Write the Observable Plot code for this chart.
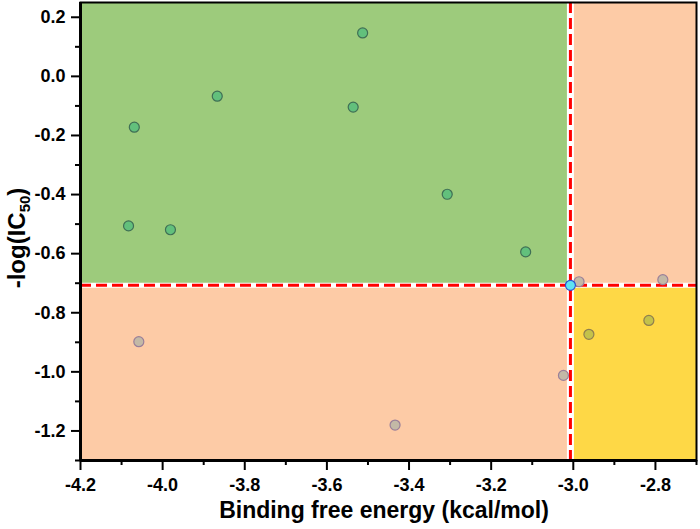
<!DOCTYPE html>
<html>
<head>
<meta charset="utf-8">
<script src="https://cdn.jsdelivr.net/npm/d3@7"></script>
<script src="https://cdn.jsdelivr.net/npm/@observablehq/plot@0.6"></script>
<style>
  html, body { margin: 0; padding: 0; background: #fff; }
  #chart svg { display: block; }
</style>
</head>
<body>
<div id="chart"></div>
<script>
// ---- data ----
const energy = [-4.069, -3.867, -4.083, -3.981, -3.513, -3.536, -3.307, -3.116,
                -4.058, -3.434, -3.024, -2.986, -2.782,
                -2.962, -2.816,
                -3.007];
const pIC50  = [-0.172, -0.067, -0.506, -0.519, 0.147, -0.104, -0.399, -0.594,
                -0.898, -1.180, -1.012, -0.695, -0.688,
                -0.873, -0.826,
                -0.707];
const group  = ["green","green","green","green","green","green","green","green",
                "gray","gray","gray","gray","gray",
                "olive","olive",
                "cyan"];

const energyThreshold = -3.007;
const pIC50Threshold = -0.707;

const xDomain = [-4.2, -2.7];
const yDomain = [-1.3, 0.25];
const xMajorTicks = [-4.2, -4.0, -3.8, -3.6, -3.4, -3.2, -3.0, -2.8];
const xMinorTicks = [-4.1, -3.9, -3.7, -3.5, -3.3, -3.1, -2.9, -2.7];
const yMajorTicks = [-1.2, -1.0, -0.8, -0.6, -0.4, -0.2, 0.0, 0.2];
const yMinorTicks = [-1.3, -1.1, -0.9, -0.7, -0.5, -0.3, -0.1, 0.1];

const regionKinds = ["favourable", "weak", "weak", "selective"];
const regionX1 = [xDomain[0], energyThreshold, xDomain[0], energyThreshold];
const regionX2 = [energyThreshold, xDomain[1], energyThreshold, xDomain[1]];
const regionY1 = [pIC50Threshold, pIC50Threshold, yDomain[0], yDomain[0]];
const regionY2 = [yDomain[1], yDomain[1], pIC50Threshold, pIC50Threshold];

// ---- styles ----
const regionColor = { favourable: "#9dcb7c", weak: "#fdcba6", selective: "#fed846" };
const dotFill   = { green: "#62c07c", gray: "#c3b9a6", olive: "#c4c24a", cyan: "#5fe3f2" };
const dotStroke = { green: "#3f6f55", gray: "#9a7f99", olive: "#8f7f4f", cyan: "#2a4fd0" };

const points = energy.map((e, i) => ({ energy: e, pIC50: pIC50[i], group: group[i] }));
const regions = regionKinds.map((k, i) => ({ kind: k, x1: regionX1[i], x2: regionX2[i], y1: regionY1[i], y2: regionY2[i] }));
const fmt = d => d.toFixed(1);

const chart = Plot.plot({
  width: 700,
  height: 529,
  marginLeft: 80,
  marginRight: 4,
  marginTop: 2,
  marginBottom: 69,
  x: { domain: xDomain },
  y: { domain: yDomain },
  style: { fontFamily: "'Liberation Sans', Arial, sans-serif", fontWeight: "bold", fontSize: "18px", color: "black", background: "white" },
  marks: [
    Plot.rect(regions, { x1: "x1", x2: "x2", y1: "y1", y2: "y2", fill: d => regionColor[d.kind] }),
    Plot.ruleX([energyThreshold], { stroke: "white", strokeWidth: 7 }),
    Plot.ruleY([pIC50Threshold], { stroke: "white", strokeWidth: 5 }),
    Plot.ruleX([energyThreshold], { stroke: "#ff0000", strokeWidth: 3, strokeDasharray: "11,5" }),
    Plot.ruleY([pIC50Threshold], { stroke: "#ff0000", strokeWidth: 3, strokeDasharray: "11,5" }),
    Plot.dot(points, { x: "energy", y: "pIC50", r: 5, fill: d => dotFill[d.group], stroke: d => dotStroke[d.group], strokeWidth: 1.2 }),
    Plot.frame({ stroke: "black", strokeWidth: 2 }),
    Plot.axisX({ ticks: xMajorTicks, tickSize: 10, tickPadding: 8, tickFormat: fmt, strokeWidth: 2, label: null }),
    Plot.axisX({ ticks: xMinorTicks, tickSize: 5, tickFormat: () => "", strokeWidth: 2, label: null }),
    Plot.axisY({ ticks: yMajorTicks, tickSize: 9, tickPadding: 6, tickFormat: fmt, strokeWidth: 2, label: null }),
    Plot.axisY({ ticks: yMinorTicks, tickSize: 5, tickFormat: () => "", strokeWidth: 2, label: null }),
    Plot.ruleX([xDomain[0]], { stroke: "black", strokeWidth: 3 }),
    Plot.ruleY([yDomain[0]], { stroke: "black", strokeWidth: 3 })
  ]
});

const svg = d3.select(chart);
svg.append("text")
  .attr("x", 384).attr("y", 518)
  .attr("text-anchor", "middle")
  .attr("font-family", "'Liberation Sans', Arial, sans-serif")
  .attr("font-weight", "bold").attr("font-size", 23)
  .attr("fill", "black")
  .text("Binding free energy (kcal/mol)");

const yl = svg.append("text")
  .attr("transform", "translate(25,238) rotate(-90)")
  .attr("text-anchor", "middle")
  .attr("font-family", "'Liberation Sans', Arial, sans-serif")
  .attr("font-weight", "bold").attr("font-size", 24)
  .attr("fill", "black");
yl.append("tspan").text("-log(IC");
yl.append("tspan").attr("font-size", 15).attr("dy", 5).text("50");
yl.append("tspan").attr("dy", -5).text(")");

document.getElementById("chart").appendChild(chart);
</script>
</body>
</html>
